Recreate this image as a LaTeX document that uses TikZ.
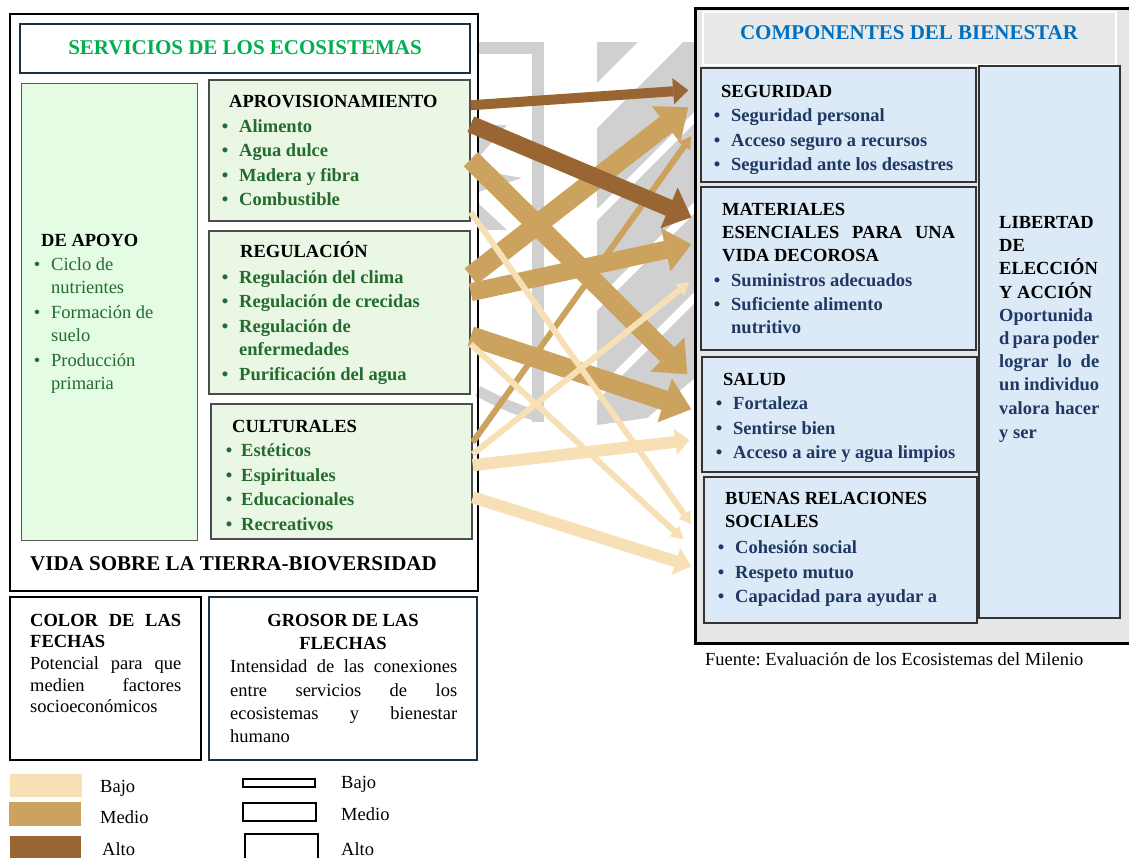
\documentclass[tikz,border=0pt]{standalone}
\usepackage{fontspec}
\setmainfont{Liberation Serif}
\usetikzlibrary{arrows.meta,fit,calc}
\frenchspacing
\definecolor{gtitle}{HTML}{00B050}
\definecolor{gtext}{HTML}{236B2E}
\definecolor{navy}{HTML}{1F3864}
\definecolor{hblue}{HTML}{0070C0}
\definecolor{apoyofill}{HTML}{E3FCE3}
\definecolor{servfill}{HTML}{EBF7E5}
\definecolor{bfill}{HTML}{DCE9F6}
\definecolor{gbg}{HTML}{E6E6E6}
\definecolor{hbg}{HTML}{E9E9E9}
\definecolor{wm}{HTML}{D0D0D0}
\definecolor{bajo}{HTML}{F8E0B6}
\definecolor{medio}{HTML}{CCA35E}
\definecolor{alto}{HTML}{996633}
\definecolor{navyline}{HTML}{1B3040}
\newcommand\Tx[5][]{\node[anchor=base west,inner sep=0pt,#1] (#2) at (#3,#4) {#5};}
\newcommand\Bu[4][]{\node[anchor=base,inner sep=0pt,#1] (#2) at (#3,#4) {\textbullet};}
\newcommand\Jx[6][]{\node[anchor=base west,inner sep=0pt,#1] (#2) at (#3,#4) {\makebox[#5pt][s]{#6}};}
\tikzset{
  bx/.style={draw, inner sep=0pt},
  hd/.style={font=\fontsize{18.5}{24}\selectfont\bfseries, text=black},
  gi/.style={font=\fontsize{18.5}{24}\selectfont\bfseries, text=gtext},
  gr/.style={font=\fontsize{18.5}{24}\selectfont, text=gtext},
  ni/.style={font=\fontsize{18.5}{24}\selectfont\bfseries, text=navy},
  rg/.style={font=\fontsize{18.5}{24}\selectfont, text=black},
  big/.style={font=\fontsize{21}{25}\selectfont\bfseries},
  arr/.style n args={3}{line width=#1, -{Triangle[length=#2, width=#3, line width=0.1pt]}}
}
\begin{document}
\begin{tikzpicture}[x=1pt,y=-1pt]
\useasboundingbox (0,0) rectangle (1129,857);
% ---------- watermark shapes ----------
\fill[wm] (478,42) rectangle (544,54);
\fill[wm] (532,42) rectangle (544,422);
\draw[wm, line width=11pt] (478,391) .. controls (500,403) and (520,411) .. (538,416);
\fill[wm] (478,125) -- (507,125) -- (478,158) -- cycle;
\fill[wm] (478,170) -- (522,178) -- (478,192) -- cycle;
\fill[wm] (478,203) -- (507,230) -- (478,230) -- cycle;
\begin{scope}
  \clip (597,42) -- (695,42) -- (695,378) -- (647,418) -- (597,425) -- cycle;
  \fill[wm] (597,42) rectangle (695,430);
  \fill[white] (680,0) -- (725,0) -- (225,500) -- (180,500) -- cycle;
  \foreach \c in {812,902,992,1082} {
    \draw[white, line width=8pt] (\c,0) -- (\c-600,600);
  }
\end{scope}
% ---------- left part ----------
\node[bx, line width=2.5pt, fit={(10,14)(478,591)}] (leftouter) {};
\node[bx, draw=navyline, line width=2pt, fill=white, fit={(20,24)(470,73)}] (titlebox) {};
\node[big, text=gtitle] (ttitle) at (245,48) {SERVICIOS DE LOS ECOSISTEMAS};
\node[bx, draw=black!65, line width=1pt, fill=apoyofill, fit={(21,83)(197,540)}] (apoyo) {};
\node[bx, draw=black!70, line width=1.5pt, fill=servfill, fit={(209,80)(470,221)}] (aprov) {};
\node[bx, draw=black!70, line width=1.5pt, fill=servfill, fit={(209,231)(470,394)}] (regul) {};
\node[bx, draw=black!70, line width=1.5pt, fill=servfill, fit={(211,404)(472,539)}] (cult) {};
% DE APOYO
\Tx[hd]{ap0}{41}{246}{DE APOYO}
\Bu[gr]{apb1}{37}{270}\Tx[gr]{ap1}{51}{270}{Ciclo de}
\Tx[gr]{ap2}{51}{293}{nutrientes}
\Bu[gr]{apb3}{37}{318}\Tx[gr]{ap3}{51}{318}{Formación de}
\Tx[gr]{ap4}{51}{341}{suelo}
\Bu[gr]{apb5}{37}{366}\Tx[gr]{ap5}{51}{366}{Producción}
\Tx[gr]{ap6}{51}{389}{primaria}
% APROVISIONAMIENTO
\Tx[hd]{pr0}{229}{107}{APROVISIONAMIENTO}
\Bu[gi]{prb1}{225}{132}\Tx[gi]{pr1}{239}{132}{Alimento}
\Bu[gi]{prb2}{225}{156}\Tx[gi]{pr2}{239}{156}{Agua dulce}
\Bu[gi]{prb3}{225}{181}\Tx[gi]{pr3}{239}{181}{Madera y fibra}
\Bu[gi]{prb4}{225}{205}\Tx[gi]{pr4}{239}{205}{Combustible}
% REGULACION
\Tx[hd]{rg0}{240}{257}{REGULACIÓN}
\Bu[gi]{rgb1}{225}{283}\Tx[gi]{rg1}{239}{283}{Regulación del clima}
\Bu[gi]{rgb2}{225}{307}\Tx[gi]{rg2}{239}{307}{Regulación de crecidas}
\Bu[gi]{rgb3}{225}{332}\Tx[gi]{rg3}{239}{332}{Regulación de}
\Tx[gi]{rg4}{239}{355}{enfermedades}
\Bu[gi]{rgb5}{225}{380}\Tx[gi]{rg5}{239}{380}{Purificación del agua}
% CULTURALES
\Tx[hd]{cu0}{232}{432}{CULTURALES}
\Bu[gi]{cub1}{229}{456}\Tx[gi]{cu1}{241}{456}{Estéticos}
\Bu[gi]{cub2}{229}{481}\Tx[gi]{cu2}{241}{481}{Espirituales}
\Bu[gi]{cub3}{229}{505}\Tx[gi]{cu3}{241}{505}{Educacionales}
\Bu[gi]{cub4}{229}{530}\Tx[gi]{cu4}{241}{530}{Recreativos}
\Tx[big]{vida}{30}{570}{VIDA SOBRE LA TIERRA-BIOVERSIDAD}
% ---------- legend ----------
\node[bx, line width=2.5pt, fit={(10,597)(201,760)}] (colorbox) {};
\node[bx, draw=navyline, line width=2pt, fit={(209,597)(477,760)}] (grosorbox) {};
\Jx[hd]{co1}{30}{626}{151}{COLOR DE LAS}
\Tx[hd]{co2}{30}{647}{FECHAS}
\Jx[rg]{co3}{30}{669}{151}{Potencial para que}
\Jx[rg]{co4}{30}{691}{151}{medien factores}
\Tx[rg]{co5}{30}{712}{socioeconómicos}
\node[hd, anchor=base, inner sep=0pt] (gr1) at (343,626) {GROSOR DE LAS};
\node[hd, anchor=base, inner sep=0pt] (gr2) at (343,649) {FLECHAS};
\Jx[rg]{gr3}{230}{672}{227}{Intensidad de las conexiones}
\Jx[rg]{gr4}{230}{696}{227}{entre servicios de los}
\Jx[rg]{gr5}{230}{719}{227}{ecosistemas y bienestar}
\Tx[rg]{gr6}{230}{742}{humano}
\node[bx, draw=none, fill=bajo, fit={(10,774)(82,797)}] (cbajo) {};
\node[bx, draw=none, fill=medio, fit={(9,802)(81,826)}] (cmedio) {};
\node[bx, draw=none, fill=alto, fit={(10,836)(81,860)}] (calto) {};
\Tx[rg]{lcb}{100}{792}{Bajo}
\Tx[rg]{lcm}{100}{823}{Medio}
\Tx[rg]{lca}{102}{855}{Alto}
\node[bx, line width=2.5pt, fit={(243,779)(315,787)}] (tbajo) {};
\node[bx, line width=2.5pt, fit={(243,803)(316,821)}] (tmedio) {};
\node[bx, line width=2.5pt, fit={(245,834)(318,866)}] (talto) {};
\Tx[rg]{ltb}{341}{788}{Bajo}
\Tx[rg]{ltm}{341}{820}{Medio}
\Tx[rg]{lta}{341}{855}{Alto}
% ---------- right part ----------
\node[bx, line width=3pt, fill=gbg, fit={(695,8)(1133,643)}] (rightouter) {};
\node[bx, draw=white, line width=2pt, fill=hbg, fit={(703,12)(1116,65)}] (headbox) {};
\node[big, text=hblue] (htitle) at (909,33) {COMPONENTES DEL BIENESTAR};
\node[bx, draw=black!80, line width=1.5pt, fill=bfill, fit={(979,66)(1120,618)}] (lib) {};
\node[bx, draw=black!80, line width=1.5pt, fill=bfill, fit={(701,68)(976,182)}] (seg) {};
\node[bx, draw=black!80, line width=1.5pt, fill=bfill, fit={(701,187)(976,350)}] (mat) {};
\node[bx, draw=black!80, line width=1.5pt, fill=bfill, fit={(702,357)(977,472)}] (sal) {};
\node[bx, draw=black!80, line width=1.5pt, fill=bfill, fit={(704,477)(977,623)}] (bue) {};
% SEGURIDAD
\Tx[hd]{se0}{721}{97}{SEGURIDAD}
\Bu[ni]{seb1}{717}{121}\Tx[ni]{se1}{731}{121}{Seguridad personal}
\Bu[ni]{seb2}{717}{146}\Tx[ni]{se2}{731}{146}{Acceso seguro a recursos}
\Bu[ni]{seb3}{717}{170}\Tx[ni]{se3}{731}{170}{Seguridad ante los desastres}
% MATERIALES
\Tx[hd]{ma0}{722}{215}{MATERIALES}
\Jx[hd]{ma1}{722}{238}{233}{ESENCIALES PARA UNA}
\Tx[hd]{ma2}{722}{261}{VIDA DECOROSA}
\Bu[ni]{mab3}{717}{286}\Tx[ni]{ma3}{731}{286}{Suministros adecuados}
\Bu[ni]{mab4}{717}{310}\Tx[ni]{ma4}{731}{310}{Suficiente alimento}
\Tx[ni]{ma5}{731}{333}{nutritivo}
% SALUD
\Tx[hd]{sa0}{723}{385}{SALUD}
\Bu[ni]{sab1}{719}{409}\Tx[ni]{sa1}{733}{409}{Fortaleza}
\Bu[ni]{sab2}{719}{434}\Tx[ni]{sa2}{733}{434}{Sentirse bien}
\Bu[ni]{sab3}{719}{458}\Tx[ni]{sa3}{733}{458}{Acceso a aire y agua limpios}
% BUENAS RELACIONES
\Tx[hd]{bu0}{725}{504}{BUENAS RELACIONES}
\Tx[hd]{bu1}{725}{527}{SOCIALES}
\Bu[ni]{bub2}{721}{553}\Tx[ni]{bu2}{735}{553}{Cohesión social}
\Bu[ni]{bub3}{721}{578}\Tx[ni]{bu3}{735}{578}{Respeto mutuo}
\Bu[ni]{bub4}{721}{602}\Tx[ni]{bu4}{735}{602}{Capacidad para ayudar a}
% LIBERTAD
\Tx[hd]{li0}{999}{228}{LIBERTAD}
\Tx[hd]{li1}{999}{251}{DE}
\Tx[hd]{li2}{999}{274}{ELECCIÓN}
\Tx[hd]{li3}{999}{298}{Y ACCIÓN}
\Tx[ni]{li4}{999}{321}{Oportunida}
\Jx[ni]{li5}{999}{344}{100}{d para poder}
\Jx[ni]{li6}{999}{367}{100}{lograr lo de}
\Jx[ni]{li7}{999}{390}{100}{un individuo}
\Jx[ni]{li8}{999}{414}{100}{valora hacer}
\Tx[ni]{li9}{999}{438}{y ser}
\Tx[rg]{fuente}{705}{665}{Fuente: Evaluación de los Ecosistemas del Milenio}
% ---------- arrows ----------
\draw[medio, arr={20pt}{28pt}{48pt}] ($(aprov.north east)+(0,80)$) -- ($(sal.north west)+(-14,18)$);
\draw[medio, arr={20pt}{28pt}{46pt}] ($(regul.north east)+(0,46)$) -- ($(seg.north west)+(-12,40)$);
\draw[medio, arr={18pt}{26pt}{44pt}] ($(regul.north east)+(0,62)$) -- ($(mat.north west)+(-9,58)$);
\draw[medio, arr={20pt}{28pt}{46pt}] ($(regul.north east)+(0,106)$) -- ($(sal.north west)+(-10,53)$);
\draw[medio, arr={6pt}{12pt}{14pt}] ($(cult.north east)+(0,39)$) -- ($(seg.north west)+(-9,69)$);
\draw[bajo, arr={6pt}{12pt}{14pt}] ($(aprov.north east)+(0,133)$) -- ($(bue.north west)+(-12,48)$);
\draw[bajo, arr={6pt}{12pt}{14pt}] ($(regul.north east)+(0,114)$) -- ($(bue.north west)+(-20,63)$);
\draw[bajo, arr={6pt}{12pt}{14pt}] ($(cult.north east)+(0,51)$) -- ($(mat.north west)+(-11,96)$);
\draw[bajo, arr={12pt}{14pt}{26pt}] ($(cult.north east)+(0,62)$) -- ($(sal.north west)+(-12,84)$);
\draw[bajo, arr={12pt}{16pt}{28pt}] ($(cult.north east)+(0,94)$) -- ($(bue.north west)+(-12,90)$);
\draw[alto, arr={10pt}{15pt}{26pt}] ($(aprov.north east)+(0,26)$) -- ($(seg.north west)+(-12,23)$);
\draw[alto, arr={17pt}{24pt}{44pt}] ($(aprov.north east)+(0,45)$) -- ($(mat.north west)+(-9,31)$);
\end{tikzpicture}
\end{document}
